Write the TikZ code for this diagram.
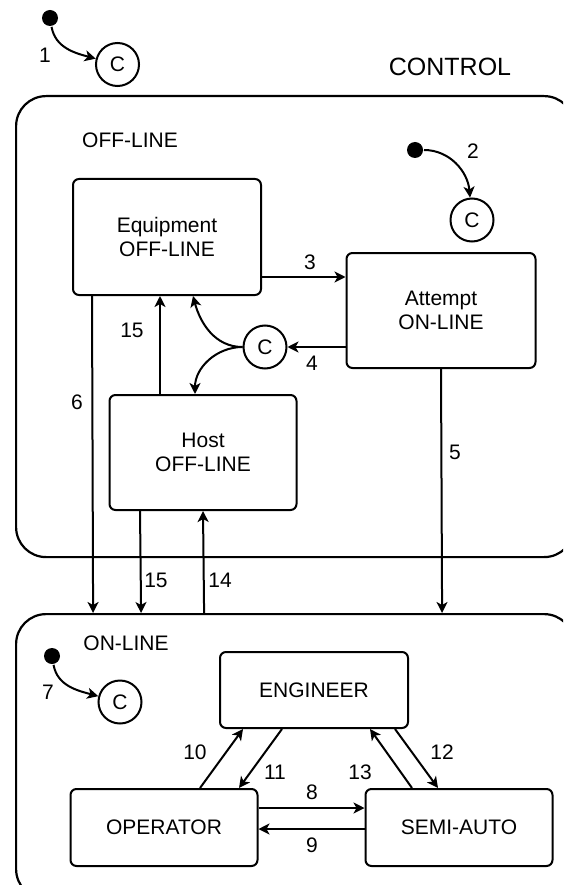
\documentclass[tikz,border=0pt]{standalone}
\usepackage{fontspec}
\setmainfont{Liberation Sans}
\usetikzlibrary{arrows.meta}
\begin{document}
\begin{tikzpicture}[x=1pt,y=-1pt,line width=2pt,
        every node/.style={font=\fontsize{21}{24}\selectfont},
        group/.style={draw,rounded corners=30pt,line width=2.2pt,anchor=north west,minimum width=558pt},
        state/.style={draw,rounded corners=6pt,align=center,inner sep=0pt},
        cond/.style={draw,circle,minimum size=43pt,inner sep=0pt},
        init/.style={fill,circle,minimum size=16pt,inner sep=0pt},
        >={Stealth[length=11pt,width=11pt,inset=3pt]}]
                \useasboundingbox (0,0) rectangle (563,885);
                \clip (0,0) rectangle (563,885);
                % outer groups
                \node[group,minimum height=461pt](offline) at (15,95) {};
                \node[group,minimum height=285pt](online) at (15,613) {};
                \node(control) at (450,67) {\fontsize{25}{28}\selectfont CONTROL};
                \node(offtitle) at (130,140) {OFF-LINE};
                \node(ontitle) at (126,643) {ON-LINE};
                % initial
                \node[init](d1) at (50,18) {};
                \node[cond](c1) at (117.5,64.5) {C};
                \node[init](d2) at (415,150) {};
                \node[cond](c2) at (472,220) {C};
                \node[init](d7) at (52,656) {};
                \node[cond](c7) at (120,702) {C};
                \node[cond](c3) at (265,347) {C};
                % states
                \node[state,minimum width=188pt,minimum height=116pt](eq) at (167,237) {Equipment\\OFF-LINE};
                \node[state,minimum width=189pt,minimum height=115pt](att) at (441,310.5) {Attempt\\ON-LINE};
                \node[state,minimum width=187pt,minimum height=115pt](host) at (203,452.5) {Host\\OFF-LINE};
                \node[state,minimum width=188pt,minimum height=76pt](eng) at (314,690) {ENGINEER};
                \node[state,minimum width=187pt,minimum height=77pt](op) at (164,827.5) {OPERATOR};
                \node[state,minimum width=187pt,minimum height=77pt](semi) at (459,827.5) {SEMI-AUTO};
                % transitions
                \draw[->](d1) to[out=-80,in=165] (c1);
                \draw[->](d2) to[out=0,in=95] (c2);
                \draw[->](d7) to[out=-80,in=165] (c7);
                \draw[->]([yshift=-40pt]eq.east) -- ([yshift=33.5pt]att.west);
                \draw[->]([yshift=-36.5pt]att.west) -- (c3);
                \draw[->](c3.west) to[out=180,in=-75] ([xshift=26pt]eq.south);
                \draw[->](c3.west) to[out=180,in=90] ([xshift=-8pt]host.north);
                \draw[->](att.south) -- ([xshift=147pt]online.north);
                \draw[->]([xshift=-75pt]eq.south) -- ([xshift=-202pt]online.north);
                \draw[->]([xshift=-43pt]host.north) -- ([xshift=-7pt]eq.south);
                \draw[->]([xshift=-63pt]host.south) -- ([xshift=-154pt]online.north);
                \draw[->]([xshift=-91pt]online.north) -- (host.south);
                \draw[->]([yshift=19.5pt]op.east) -- ([yshift=19.5pt]semi.west);
                \draw[->]([yshift=-1.5pt]semi.west) -- ([yshift=-1.5pt]op.east);
                \draw[->]([xshift=36pt]op.north) -- ([xshift=-71pt]eng.south);
                \draw[->]([xshift=-32pt]eng.south) -- ([xshift=75pt]op.north);
                \draw[->]([xshift=81pt]eng.south) -- ([xshift=-21pt]semi.north);
                \draw[->]([xshift=-47pt]semi.north) -- ([xshift=56pt]eng.south);
                % numbers
                \node(n1) at (45,55) {1};
                \node(n2) at (473,151) {2};
                \node(n3) at (310,262) {3};
                \node(n4) at (312,363) {4};
                \node(n5) at (455,452) {5};
                \node(n6) at (77,402) {6};
                \node(n7) at (48,692) {7};
                \node(n8) at (312,792) {8};
                \node(n9) at (312,845) {9};
                \node(n10) at (195,752) {10};
                \node(n11) at (275,772) {11};
                \node(n12) at (442,752) {12};
                \node(n13) at (360,772) {13};
                \node(n14) at (220,580) {14};
                \node(n15a) at (132,330) {15};
                \node(n15b) at (156,580) {15};
            \end{tikzpicture}
\end{document}
